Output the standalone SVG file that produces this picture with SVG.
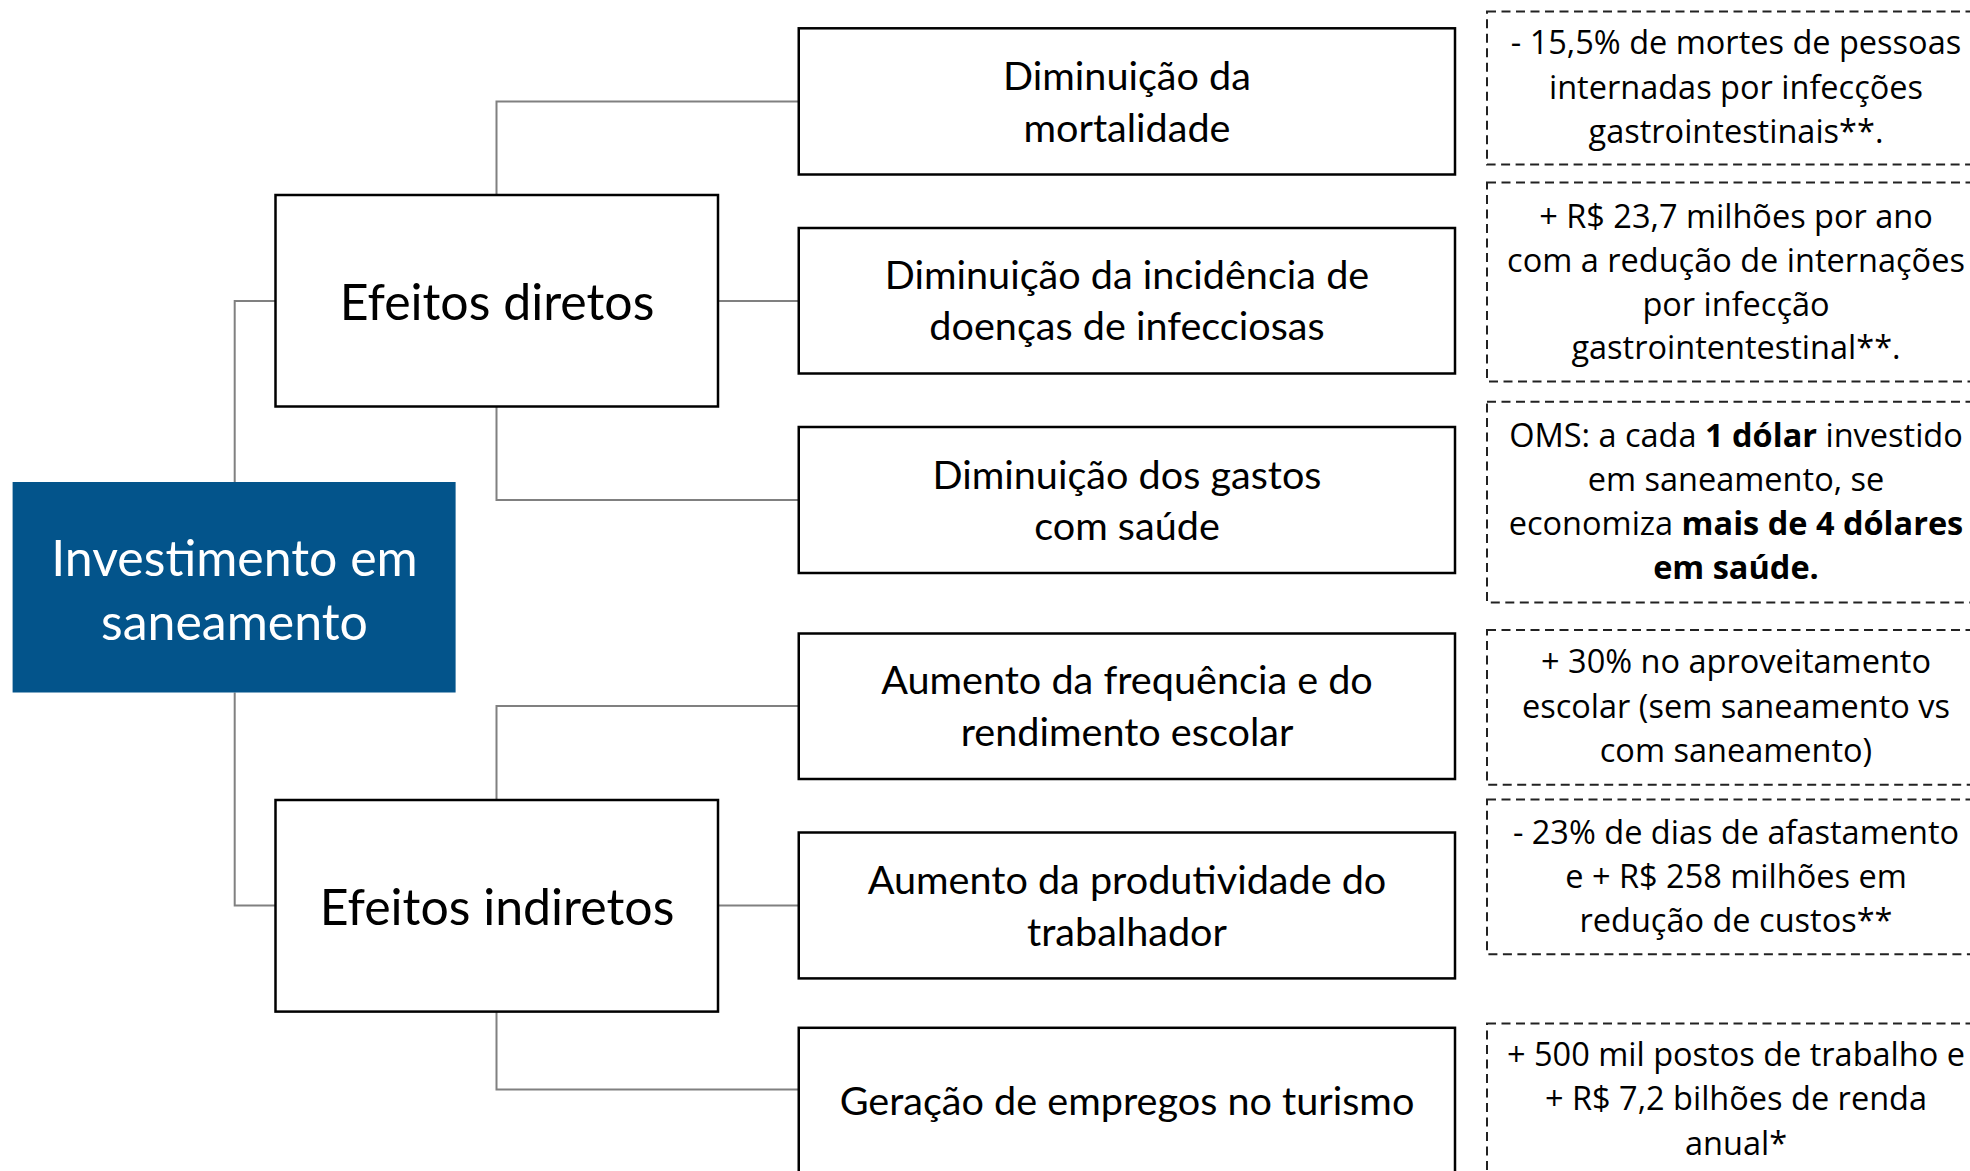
<svg xmlns="http://www.w3.org/2000/svg" width="1970" height="1171" viewBox="0 0 1970 1171">
<style>
.conn{fill:none;stroke:#808080;stroke-width:2}
.box{fill:#fff;stroke:#000;stroke-width:2.5}
.dash{fill:#fff;stroke:#222;stroke-width:2;stroke-dasharray:9 5.5}
.lbl{font-family:Lato,"Liberation Sans",sans-serif;text-anchor:middle;fill:#000}
.big{font-size:50px}
.mid{font-size:39.6px}
.note{font-family:"Open Sans","Liberation Sans",sans-serif;font-size:32.5px;text-anchor:middle;fill:#000}
.b{font-weight:bold}
</style>
<rect width="1970" height="1171" fill="#fff"/>
<g id="connectors">
<path class="conn" d="M234.7 482 V301 H275.5"/>
<path class="conn" d="M234.7 692.5 V905.5 H275.5"/>
<path class="conn" d="M496.5 195 V101.4 H798.75"/>
<path class="conn" d="M718 301 H798.75"/>
<path class="conn" d="M496.5 406.5 V500 H798.75"/>
<path class="conn" d="M496.5 800 V706 H798.75"/>
<path class="conn" d="M718 905.5 H798.75"/>
<path class="conn" d="M496.5 1011.6 V1089.5 H798.75"/>
</g>
<g id="root">
<rect x="12.6" y="482" width="443" height="210.5" fill="#03548B"/>
<text class="lbl big" x="234.5" y="576" style="fill:#fff">Investimento em</text>
<text class="lbl big" x="234.5" y="640" style="fill:#fff">saneamento</text>
</g>
<g id="diretos">
<rect class="box" x="275.5" y="195" width="442.5" height="211.5"/>
<text class="lbl big" x="497" y="319.5">Efeitos diretos</text>
</g>
<g id="indiretos">
<rect class="box" x="275.5" y="800" width="442.5" height="211.6"/>
<text class="lbl big" x="497" y="924.5">Efeitos indiretos</text>
</g>
<g id="mortalidade">
<rect class="box" x="798.75" y="28.3" width="656.25" height="146.2"/>
<text class="lbl mid" x="1127" y="90">Diminuição da</text>
<text class="lbl mid" x="1127" y="141.6">mortalidade</text>
</g>
<g id="incidencia">
<rect class="box" x="798.75" y="228" width="656.25" height="145.5"/>
<text class="lbl mid" x="1127" y="289">Diminuição da incidência de</text>
<text class="lbl mid" x="1127" y="340">doenças de infecciosas</text>
</g>
<g id="gastos">
<rect class="box" x="798.75" y="427" width="656.25" height="146"/>
<text class="lbl mid" x="1127" y="488.5">Diminuição dos gastos</text>
<text class="lbl mid" x="1127" y="539.5">com saúde</text>
</g>
<g id="escolar">
<rect class="box" x="798.75" y="633.5" width="656.25" height="145.5"/>
<text class="lbl mid" x="1127" y="694">Aumento da frequência e do</text>
<text class="lbl mid" x="1127" y="746">rendimento escolar</text>
</g>
<g id="produtividade">
<rect class="box" x="798.75" y="832.5" width="656.25" height="145.9"/>
<text class="lbl mid" x="1127" y="893.5">Aumento da produtividade do</text>
<text class="lbl mid" x="1127" y="945.5">trabalhador</text>
</g>
<g id="turismo">
<rect class="box" x="798.75" y="1027.8" width="656.25" height="146"/>
<text class="lbl mid" x="1127" y="1114.5">Geração de empregos no turismo</text>
</g>
<g id="nota1">
<rect class="dash" x="1487" y="11.5" width="486" height="153.1"/>
<text class="note" x="1736" y="53.5">- 15,5% de mortes de pessoas</text>
<text class="note" x="1736" y="98.5">internadas por infecções</text>
<text class="note" x="1736" y="143">gastrointestinais**.</text>
</g>
<g id="nota2">
<rect class="dash" x="1487" y="182.5" width="486" height="199"/>
<text class="note" x="1736" y="228">+ R$ 23,7 milhões por ano</text>
<text class="note" x="1736" y="272">com a redução de internações</text>
<text class="note" x="1736" y="316">por infecção</text>
<text class="note" x="1736" y="359">gastrointentestinal**.</text>
</g>
<g id="nota3">
<rect class="dash" x="1487" y="401.8" width="486" height="200.8"/>
<text class="note" x="1736" y="447">OMS: a cada <tspan class="b">1 dólar</tspan> investido</text>
<text class="note" x="1736" y="491">em saneamento, se</text>
<text class="note" x="1736" y="535">economiza <tspan class="b">mais de 4 dólares</tspan></text>
<text class="note b" x="1736" y="579">em saúde.</text>
</g>
<g id="nota4">
<rect class="dash" x="1487" y="630" width="486" height="154.7"/>
<text class="note" x="1736" y="673">+ 30% no aproveitamento</text>
<text class="note" x="1736" y="717.5">escolar (sem saneamento vs</text>
<text class="note" x="1736" y="762">com saneamento)</text>
</g>
<g id="nota5">
<rect class="dash" x="1487" y="799.4" width="486" height="154.9"/>
<text class="note" x="1736" y="844">- 23% de dias de afastamento</text>
<text class="note" x="1736" y="888">e + R$ 258 milhões em</text>
<text class="note" x="1736" y="932">redução de custos**</text>
</g>
<g id="nota6">
<rect class="dash" x="1487" y="1023.6" width="486" height="160"/>
<text class="note" x="1736" y="1066">+ 500 mil postos de trabalho e</text>
<text class="note" x="1736" y="1110">+ R$ 7,2 bilhões de renda</text>
<text class="note" x="1736" y="1155">anual*</text>
</g>
</svg>
